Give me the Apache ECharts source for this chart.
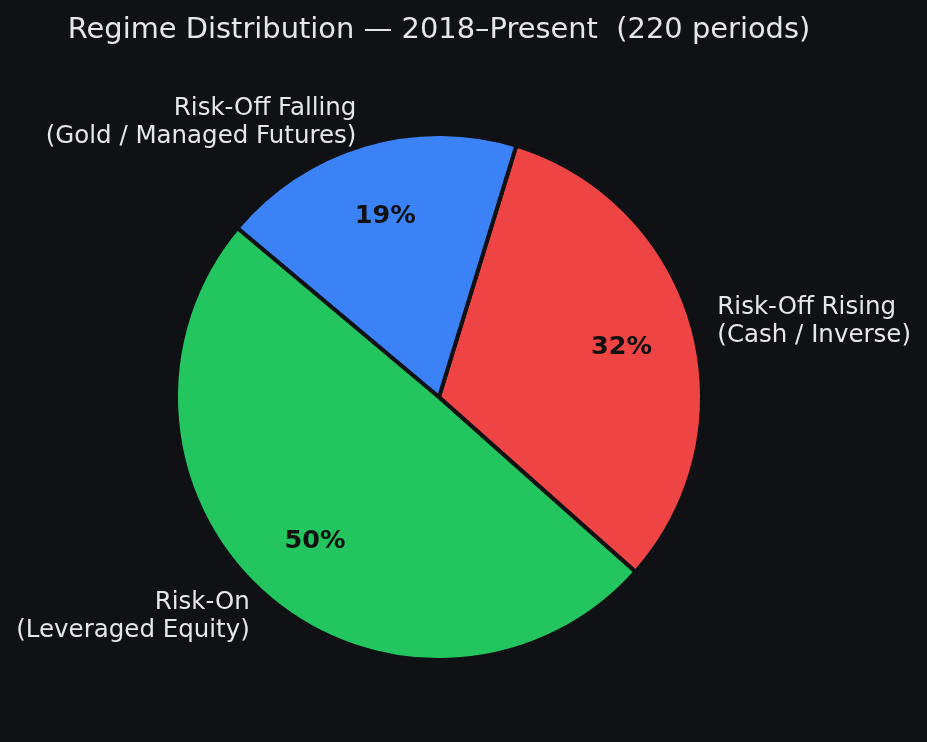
<!DOCTYPE html>
<html>
<head>
<meta charset="utf-8">
<script src="https://cdn.jsdelivr.net/npm/echarts@6/dist/echarts.min.js"></script>
<style>
html,body{margin:0;padding:0;background:#0f1115;}
#chart{width:927px;height:742px;}
</style>
</head>
<body>
<div id="chart"></div>
<script>
const titleText = 'Regime Distribution — 2018–Present  (220 periods)';
const categories = ['Risk-On\n(Leveraged Equity)', 'Risk-Off Rising\n(Cash / Inverse)', 'Risk-Off Falling\n(Gold / Managed Futures)'];
const counts = [109, 70, 41];
const colors = ['#22c55e', '#ef4444', '#3b82f6'];

const total = counts.reduce((a, b) => a + b, 0);
const data = categories.map((c, i) => ({ name: c, value: counts[i], itemStyle: { color: colors[i] } }));
const pctData = categories.map((c, i) => ({ name: c, value: counts[i] }));

const chart = echarts.init(document.getElementById('chart'), null, { renderer: 'canvas' });
const FONT = '"DejaVu Sans", sans-serif';
chart.setOption({
  backgroundColor: '#0f1115',
  animation: false,
  title: {
    text: titleText,
    left: 434, top: 11, textAlign: 'center',
    textStyle: { color: '#e5e7eb', fontSize: 28.9, fontWeight: 'normal', fontFamily: FONT }
  },
  series: [
    {
      type: 'pie',
      center: [439, 397],
      radius: [0, 263],
      startAngle: 140,
      clockwise: false,
      avoidLabelOverlap: false,
      silent: true,
      itemStyle: { borderColor: '#0f1115', borderWidth: 4 },
      label: {
        show: true, position: 'outside', distanceToLabelLine: 1, offset: [0, 2],
        color: '#e5e7eb', fontSize: 24.5, fontFamily: FONT, lineHeight: 28,
        formatter: '{b}'
      },
      labelLine: { show: false, length: 25, length2: 0 },
      data: data
    },
    {
      type: 'pie',
      center: [439, 397],
      radius: [110, 263],
      startAngle: 140,
      clockwise: false,
      silent: true,
      itemStyle: { color: 'rgba(0,0,0,0)', borderWidth: 0 },
      label: {
        show: true, position: 'inside', offset: [0, 1],
        color: '#111111', fontSize: 25.5, fontWeight: 'bold', fontFamily: FONT,
        formatter: p => Math.round(p.value / total * 100) + '%'
      },
      labelLine: { show: false },
      data: pctData
    }
  ]
});
</script>
</body>
</html>
